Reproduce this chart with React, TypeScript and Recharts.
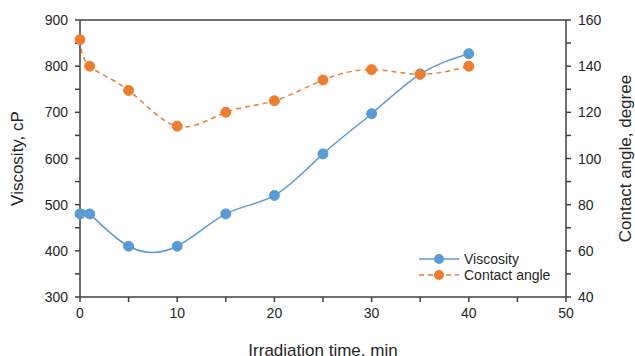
import {
  ComposedChart,
  Line,
  XAxis,
  YAxis,
  ReferenceLine,
  Label,
} from "recharts";

const times = [0, 1, 5, 10, 15, 20, 25, 30, 35, 40];
const viscosity = [480, 480, 410, 410, 480, 520, 610, 697, 783, 827];
const contactAngle = [151.5, 140, 129.5, 114, 120, 125, 134, 138.5, 136.5, 140];

const xTicks = [0, 5, 10, 15, 20, 25, 30, 35, 40, 45, 50];
const leftTicks = [300, 350, 400, 450, 500, 550, 600, 650, 700, 750, 800, 850, 900];
const rightTicks = [40, 50, 60, 70, 80, 90, 100, 110, 120, 130, 140, 150, 160];

const BLUE = "#5b9bd5";
const ORANGE = "#ed7d31";
const AXIS = "#404040";
const TEXT = "#262626";

const data = times.map((t, i) => ({
  t,
  viscosity: viscosity[i],
  angle: contactAngle[i],
}));

const makeTick =
  (step: number, anchor: "middle" | "end" | "start", dx: number, dy: number) =>
  (props: any) => {
    const { x, y, payload } = props;
    if (payload.value % step !== 0) return <g />;
    return (
      <text
        x={x + dx}
        y={y + dy}
        textAnchor={anchor}
        fill={TEXT}
        fontSize={14}
      >
        {payload.value}
      </text>
    );
  };

function LegendBox() {
  const rows = [
    { label: "Viscosity", color: BLUE, dash: undefined },
    { label: "Contact angle", color: ORANGE, dash: "5 4" },
  ];
  return (
    <svg width={150} height={40}>
      {rows.map((r, i) => {
        const cy = 9 + i * 16;
        return (
          <g key={r.label}>
            <line
              x1={0}
              x2={40}
              y1={cy}
              y2={cy}
              stroke={r.color}
              strokeWidth={1.5}
              strokeDasharray={r.dash}
            />
            <circle cx={20} cy={cy} r={5} fill={r.color} />
            <text x={45} y={cy + 5} fontSize={14} fill={TEXT}>
              {r.label}
            </text>
          </g>
        );
      })}
    </svg>
  );
}

export default function App() {
  return (
    <div
      style={{
        position: "absolute",
        left: 0,
        top: 0,
        width: 635,
        height: 356,
        overflow: "hidden",
        fontFamily: "'Liberation Sans', Arial, sans-serif",
        background: "#fff",
      }}
    >
      <ComposedChart
        width={635}
        height={356}
        data={data}
        margin={{ top: 20, right: 0, bottom: 0, left: 0 }}
      >
        <XAxis
          dataKey="t"
          type="number"
          domain={[0, 50]}
          ticks={xTicks}
          interval={0}
          stroke={AXIS}
          strokeWidth={1.5}
          tickSize={5}
          height={59}
          tick={makeTick(10, "middle", 0, 14)}
        >
          <Label
            value="Irradiation time, min"
            position="insideBottom"
            offset={0}
            fontSize={17}
            fill={TEXT}
          />
        </XAxis>
        <YAxis
          yAxisId="left"
          domain={[300, 900]}
          ticks={leftTicks}
          interval={0}
          width={80}
          stroke={AXIS}
          strokeWidth={1.5}
          tickSize={5}
          tick={makeTick(100, "end", -5, 5)}
        >
          <Label
            value="Viscosity, cP"
            angle={-90}
            position="insideLeft"
            offset={17}
            style={{ textAnchor: "middle" }}
            fontSize={17}
            fill={TEXT}
          />
        </YAxis>
        <YAxis
          yAxisId="right"
          orientation="right"
          domain={[40, 160]}
          ticks={rightTicks}
          interval={0}
          width={69}
          stroke={AXIS}
          strokeWidth={1.5}
          tickSize={5}
          tick={makeTick(20, "start", 5, 5)}
        >
          <Label
            value="Contact angle, degree"
            angle={-90}
            position="insideRight"
            offset={10}
            style={{ textAnchor: "middle" }}
            fontSize={17}
            fill={TEXT}
          />
        </YAxis>
        <ReferenceLine yAxisId="left" y={900} stroke={AXIS} strokeWidth={1.5} />
        <Line
          yAxisId="left"
          dataKey="viscosity"
          type="natural"
          stroke={BLUE}
          strokeWidth={1.5}
          dot={{ r: 5, fill: BLUE, stroke: BLUE, strokeWidth: 1 }}
          isAnimationActive={false}
        />
        <Line
          yAxisId="right"
          dataKey="angle"
          type="natural"
          stroke={ORANGE}
          strokeWidth={1.5}
          strokeDasharray="5 4"
          dot={{ r: 5, fill: ORANGE, stroke: ORANGE, strokeWidth: 1, strokeDasharray: "" }}
          isAnimationActive={false}
        />
      </ComposedChart>
      <div style={{ position: "absolute", left: 419, top: 250 }}>
        <LegendBox />
      </div>
    </div>
  );
}
